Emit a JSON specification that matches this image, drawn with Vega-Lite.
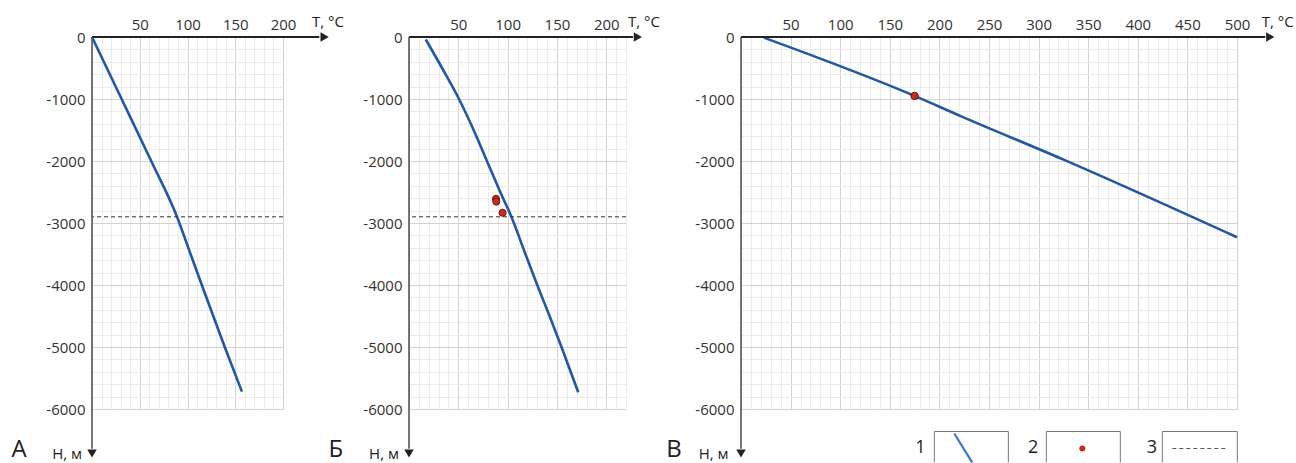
{
  "$schema": "https://vega.github.io/schema/vega-lite/v6.json",
  "autosize": {"type": "pad"},
  "padding": {"left": 11, "top": 14, "right": 0, "bottom": 0},
  "background": "white",
  "config": {
    "view": {"stroke": null},
    "font": "Open Sans",
    "axis": {"labelFont": "Open Sans", "labelFontSize": 15, "labelColor": "#333333", "domain": false, "ticks": false, "labelOverlap": false, "labelFlush": false, "gridWidth": 1},
    "text": {"font": "Open Sans", "color": "#222222"}
  },
  "datasets": {
    "curveA": [
      {"T": 0, "H": 0}, {"T": 31, "H": -1000}, {"T": 62, "H": -2000}, {"T": 89, "H": -2900}, {"T": 102, "H": -3450},
      {"T": 115, "H": -4000}, {"T": 139, "H": -5000}, {"T": 157, "H": -5720}
    ],
    "curveB": [
      {"T": 17, "H": -40}, {"T": 33.5, "H": -500}, {"T": 50.7, "H": -1000}, {"T": 65.5, "H": -1500}, {"T": 79, "H": -2000},
      {"T": 92.5, "H": -2500}, {"T": 103.8, "H": -2900}, {"T": 118, "H": -3500}, {"T": 130, "H": -4000},
      {"T": 142.5, "H": -4500}, {"T": 154.6, "H": -5000}, {"T": 171.6, "H": -5730}
    ],
    "curveC": [
      {"T": 23, "H": -10}, {"T": 175, "H": -950}, {"T": 222, "H": -1280}, {"T": 324, "H": -1970}, {"T": 500, "H": -3230}
    ],
    "pointsB": [
      {"T": 88.2, "H": -2610}, {"T": 88.5, "H": -2655}, {"T": 94.9, "H": -2835}
    ],
    "pointsC": [
      {"T": 175, "H": -950}
    ],
    "level": [
      {"H": -2900}
    ]
  },
  "hconcat": [
    {
      "width": 191,
      "height": 372,
      "resolve": {"axis": {"x": "independent", "y": "independent"}},
      "layer": [
        {
          "data": {"name": "curveA"},
          "mark": {"type": "line", "color": "#2257a5", "strokeWidth": 2.6, "interpolate": "monotone"},
          "encoding": {
            "x": {"field": "T", "type": "quantitative", "scale": {"domain": [0, 200], "nice": false, "zero": false},
              "axis": {"orient": "top", "title": null, "values": [0,10,20,30,40,50,60,70,80,90,100,110,120,130,140,150,160,170,180,190,200], "grid": true,
                "gridColor": {"condition": {"test": "datum.value % 50 === 0", "value": "#d2d2d2"}, "value": "#ebebeb"},
                "labelExpr": "datum.value % 50 === 0 && datum.value !== 0 ? datum.label : ''", "labelPadding": 5}},
            "y": {"field": "H", "type": "quantitative", "scale": {"domain": [-6000, 0], "nice": false, "zero": false},
              "axis": {"orient": "left", "title": null, "values": [-6000,-5800,-5600,-5400,-5200,-5000,-4800,-4600,-4400,-4200,-4000,-3800,-3600,-3400,-3200,-3000,-2800,-2600,-2400,-2200,-2000,-1800,-1600,-1400,-1200,-1000,-800,-600,-400,-200,0], "grid": true,
                "gridColor": {"condition": {"test": "datum.value % 1000 === 0", "value": "#d2d2d2"}, "value": "#ebebeb"},
                "labelExpr": "datum.value % 1000 === 0 ? '' + datum.value : ''", "labelPadding": 7}}
          }
        },
        {
          "data": {"name": "level"},
          "mark": {"type": "rule", "color": "#333333", "strokeWidth": 1, "strokeDash": [4, 3]},
          "encoding": {"y": {"field": "H", "type": "quantitative", "axis": null}}
        },
        {
          "data": {"values": [{}]},
          "mark": {"type": "rule", "color": "#222222", "strokeWidth": 1.8},
          "encoding": {"x": {"datum": 0, "axis": null}, "x2": {"datum": 238}, "y": {"datum": 0, "axis": null}}
        },
        {
          "data": {"values": [{}]},
          "mark": {"type": "point", "shape": "triangle-right", "filled": true, "color": "#222222", "size": 90, "opacity": 1},
          "encoding": {"x": {"datum": 243.6, "axis": null}, "y": {"datum": 0, "axis": null}}
        },
        {
          "data": {"values": [{}]},
          "mark": {"type": "text", "text": "T, °C", "fontSize": 15, "align": "left", "baseline": "middle"},
          "encoding": {"x": {"datum": 230.4, "axis": null}, "y": {"datum": 250, "axis": null}}
        },
        {
          "data": {"values": [{}]},
          "mark": {"type": "rule", "color": "#555555", "strokeWidth": 1.6},
          "encoding": {"x": {"datum": 0, "axis": null}, "y": {"datum": 0, "axis": null}, "y2": {"datum": -6640}}
        },
        {
          "data": {"values": [{}]},
          "mark": {"type": "point", "shape": "triangle-down", "filled": true, "color": "#222222", "size": 90, "opacity": 1},
          "encoding": {"x": {"datum": 0, "axis": null}, "y": {"datum": -6718, "axis": null}}
        },
        {
          "data": {"values": [{}]},
          "mark": {"type": "text", "text": "H, м", "fontSize": 15, "align": "right", "baseline": "middle"},
          "encoding": {"x": {"datum": -10.5, "axis": null}, "y": {"datum": -6718, "axis": null}}
        },
        {
          "data": {"values": [{}]},
          "mark": {"type": "text", "text": "А", "fontSize": 24, "align": "left", "baseline": "middle"},
          "encoding": {"x": {"datum": -84.4, "axis": null}, "y": {"datum": -6661, "axis": null}}
        }
      ]
    },
    {
      "width": 126,
      "height": 372,
      "data": {"values": []},
      "mark": {"type": "point"},
      "encoding": {}
    },
    {
      "width": 217,
      "height": 372,
      "resolve": {"axis": {"x": "independent", "y": "independent"}},
      "layer": [
        {
          "data": {"name": "curveB"},
          "mark": {"type": "line", "color": "#2257a5", "strokeWidth": 2.6, "interpolate": "monotone"},
          "encoding": {
            "x": {"field": "T", "type": "quantitative", "scale": {"domain": [0, 220], "nice": false, "zero": false},
              "axis": {"orient": "top", "title": null, "values": [0,10,20,30,40,50,60,70,80,90,100,110,120,130,140,150,160,170,180,190,200,210,220], "grid": true,
                "gridColor": {"condition": {"test": "datum.value % 50 === 0", "value": "#d2d2d2"}, "value": "#ebebeb"},
                "labelExpr": "datum.value % 50 === 0 && datum.value !== 0 ? datum.label : ''", "labelPadding": 5}},
            "y": {"field": "H", "type": "quantitative", "scale": {"domain": [-6000, 0], "nice": false, "zero": false},
              "axis": {"orient": "left", "title": null, "values": [-6000,-5800,-5600,-5400,-5200,-5000,-4800,-4600,-4400,-4200,-4000,-3800,-3600,-3400,-3200,-3000,-2800,-2600,-2400,-2200,-2000,-1800,-1600,-1400,-1200,-1000,-800,-600,-400,-200,0], "grid": true,
                "gridColor": {"condition": {"test": "datum.value % 1000 === 0", "value": "#d2d2d2"}, "value": "#ebebeb"},
                "labelExpr": "datum.value % 1000 === 0 ? '' + datum.value : ''", "labelPadding": 7}}
          }
        },
        {
          "data": {"name": "level"},
          "mark": {"type": "rule", "color": "#333333", "strokeWidth": 1, "strokeDash": [4, 3]},
          "encoding": {"y": {"field": "H", "type": "quantitative", "axis": null}}
        },
        {
          "data": {"name": "pointsB"},
          "mark": {"type": "point", "shape": "circle", "filled": true, "fill": "#d12a1c", "stroke": "#5a1a12", "strokeWidth": 1, "size": 50, "opacity": 1},
          "encoding": {"x": {"field": "T", "type": "quantitative", "axis": null}, "y": {"field": "H", "type": "quantitative", "axis": null}}
        },
        {
          "data": {"values": [{}]},
          "mark": {"type": "rule", "color": "#222222", "strokeWidth": 1.8},
          "encoding": {"x": {"datum": 0, "axis": null}, "x2": {"datum": 227}, "y": {"datum": 0, "axis": null}}
        },
        {
          "data": {"values": [{}]},
          "mark": {"type": "point", "shape": "triangle-right", "filled": true, "color": "#222222", "size": 90, "opacity": 1},
          "encoding": {"x": {"datum": 232, "axis": null}, "y": {"datum": 0, "axis": null}}
        },
        {
          "data": {"values": [{}]},
          "mark": {"type": "text", "text": "T, °C", "fontSize": 15, "align": "left", "baseline": "middle"},
          "encoding": {"x": {"datum": 222, "axis": null}, "y": {"datum": 250, "axis": null}}
        },
        {
          "data": {"values": [{}]},
          "mark": {"type": "rule", "color": "#555555", "strokeWidth": 1.6},
          "encoding": {"x": {"datum": 0, "axis": null}, "y": {"datum": 0, "axis": null}, "y2": {"datum": -6640}}
        },
        {
          "data": {"values": [{}]},
          "mark": {"type": "point", "shape": "triangle-down", "filled": true, "color": "#222222", "size": 90, "opacity": 1},
          "encoding": {"x": {"datum": 0, "axis": null}, "y": {"datum": -6718, "axis": null}}
        },
        {
          "data": {"values": [{}]},
          "mark": {"type": "text", "text": "H, м", "fontSize": 15, "align": "right", "baseline": "middle"},
          "encoding": {"x": {"datum": -10.2, "axis": null}, "y": {"datum": -6718, "axis": null}}
        },
        {
          "data": {"values": [{}]},
          "mark": {"type": "text", "text": "Б", "fontSize": 24, "align": "left", "baseline": "middle"},
          "encoding": {"x": {"datum": -81.5, "axis": null}, "y": {"datum": -6661, "axis": null}}
        }
      ]
    },
    {
      "width": 115,
      "height": 372,
      "data": {"values": []},
      "mark": {"type": "point"},
      "encoding": {}
    },
    {
      "width": 496,
      "height": 372,
      "resolve": {"axis": {"x": "independent", "y": "independent"}},
      "layer": [
        {
          "data": {"name": "curveC"},
          "mark": {"type": "line", "color": "#2257a5", "strokeWidth": 2.6, "interpolate": "monotone"},
          "encoding": {
            "x": {"field": "T", "type": "quantitative", "scale": {"domain": [0, 500], "nice": false, "zero": false},
              "axis": {"orient": "top", "title": null, "values": [0,10,20,30,40,50,60,70,80,90,100,110,120,130,140,150,160,170,180,190,200,210,220,230,240,250,260,270,280,290,300,310,320,330,340,350,360,370,380,390,400,410,420,430,440,450,460,470,480,490,500], "grid": true,
                "gridColor": {"condition": {"test": "datum.value % 50 === 0", "value": "#d2d2d2"}, "value": "#ebebeb"},
                "labelExpr": "datum.value % 50 === 0 && datum.value !== 0 ? datum.label : ''", "labelPadding": 5}},
            "y": {"field": "H", "type": "quantitative", "scale": {"domain": [-6000, 0], "nice": false, "zero": false},
              "axis": {"orient": "left", "title": null, "values": [-6000,-5800,-5600,-5400,-5200,-5000,-4800,-4600,-4400,-4200,-4000,-3800,-3600,-3400,-3200,-3000,-2800,-2600,-2400,-2200,-2000,-1800,-1600,-1400,-1200,-1000,-800,-600,-400,-200,0], "grid": true,
                "gridColor": {"condition": {"test": "datum.value % 1000 === 0", "value": "#d2d2d2"}, "value": "#ebebeb"},
                "labelExpr": "datum.value % 1000 === 0 ? '' + datum.value : ''", "labelPadding": 7}}
          }
        },
        {
          "data": {"name": "pointsC"},
          "mark": {"type": "point", "shape": "circle", "filled": true, "fill": "#d12a1c", "stroke": "#5a1a12", "strokeWidth": 1, "size": 55, "opacity": 1},
          "encoding": {"x": {"field": "T", "type": "quantitative", "axis": null}, "y": {"field": "H", "type": "quantitative", "axis": null}}
        },
        {
          "data": {"values": [{}]},
          "mark": {"type": "rule", "color": "#222222", "strokeWidth": 1.8},
          "encoding": {"x": {"datum": 0, "axis": null}, "x2": {"datum": 528.5}, "y": {"datum": 0, "axis": null}}
        },
        {
          "data": {"values": [{}]},
          "mark": {"type": "point", "shape": "triangle-right", "filled": true, "color": "#222222", "size": 90, "opacity": 1},
          "encoding": {"x": {"datum": 533.5, "axis": null}, "y": {"datum": 0, "axis": null}}
        },
        {
          "data": {"values": [{}]},
          "mark": {"type": "text", "text": "T, °C", "fontSize": 15, "align": "left", "baseline": "middle"},
          "encoding": {"x": {"datum": 525, "axis": null}, "y": {"datum": 250, "axis": null}}
        },
        {
          "data": {"values": [{}]},
          "mark": {"type": "rule", "color": "#555555", "strokeWidth": 1.6},
          "encoding": {"x": {"datum": 0, "axis": null}, "y": {"datum": 0, "axis": null}, "y2": {"datum": -6640}}
        },
        {
          "data": {"values": [{}]},
          "mark": {"type": "point", "shape": "triangle-down", "filled": true, "color": "#222222", "size": 90, "opacity": 1},
          "encoding": {"x": {"datum": 0, "axis": null}, "y": {"datum": -6718, "axis": null}}
        },
        {
          "data": {"values": [{}]},
          "mark": {"type": "text", "text": "H, м", "fontSize": 15, "align": "right", "baseline": "middle"},
          "encoding": {"x": {"datum": -12.5, "axis": null}, "y": {"datum": -6718, "axis": null}}
        },
        {
          "data": {"values": [{}]},
          "mark": {"type": "text", "text": "В", "fontSize": 24, "align": "left", "baseline": "middle"},
          "encoding": {"x": {"datum": -75.3, "axis": null}, "y": {"datum": -6661, "axis": null}}
        },
        {
          "data": {"values": [{}]},
          "mark": {"type": "text", "text": "1", "fontSize": 18, "align": "center", "baseline": "middle"},
          "encoding": {"x": {"datum": 180.8, "axis": null}, "y": {"datum": -6626, "axis": null}}
        },
        {
          "data": {"values": [{}]},
          "mark": {"type": "text", "text": "2", "fontSize": 18, "align": "center", "baseline": "middle"},
          "encoding": {"x": {"datum": 294.4, "axis": null}, "y": {"datum": -6626, "axis": null}}
        },
        {
          "data": {"values": [{}]},
          "mark": {"type": "text", "text": "3", "fontSize": 18, "align": "center", "baseline": "middle"},
          "encoding": {"x": {"datum": 414.3, "axis": null}, "y": {"datum": -6626, "axis": null}}
        },
        {
          "data": {"values": [{}]},
          "mark": {"type": "rule", "color": "#777777", "strokeWidth": 1},
          "encoding": {"x": {"datum": 194.9, "axis": null}, "x2": {"datum": 269.5}, "y": {"datum": -6363, "axis": null}}
        },
        {
          "data": {"values": [{}]},
          "mark": {"type": "rule", "color": "#777777", "strokeWidth": 1},
          "encoding": {"x": {"datum": 194.9, "axis": null}, "y": {"datum": -6363, "axis": null}, "y2": {"datum": -6860}}
        },
        {
          "data": {"values": [{}]},
          "mark": {"type": "rule", "color": "#777777", "strokeWidth": 1},
          "encoding": {"x": {"datum": 269.5, "axis": null}, "y": {"datum": -6363, "axis": null}, "y2": {"datum": -6860}}
        },
        {
          "data": {"values": [{}]},
          "mark": {"type": "rule", "color": "#777777", "strokeWidth": 1},
          "encoding": {"x": {"datum": 307.8, "axis": null}, "x2": {"datum": 382.4}, "y": {"datum": -6363, "axis": null}}
        },
        {
          "data": {"values": [{}]},
          "mark": {"type": "rule", "color": "#777777", "strokeWidth": 1},
          "encoding": {"x": {"datum": 307.8, "axis": null}, "y": {"datum": -6363, "axis": null}, "y2": {"datum": -6860}}
        },
        {
          "data": {"values": [{}]},
          "mark": {"type": "rule", "color": "#777777", "strokeWidth": 1},
          "encoding": {"x": {"datum": 382.4, "axis": null}, "y": {"datum": -6363, "axis": null}, "y2": {"datum": -6860}}
        },
        {
          "data": {"values": [{}]},
          "mark": {"type": "rule", "color": "#777777", "strokeWidth": 1},
          "encoding": {"x": {"datum": 424.7, "axis": null}, "x2": {"datum": 500.3}, "y": {"datum": -6363, "axis": null}}
        },
        {
          "data": {"values": [{}]},
          "mark": {"type": "rule", "color": "#777777", "strokeWidth": 1},
          "encoding": {"x": {"datum": 424.7, "axis": null}, "y": {"datum": -6363, "axis": null}, "y2": {"datum": -6860}}
        },
        {
          "data": {"values": [{}]},
          "mark": {"type": "rule", "color": "#777777", "strokeWidth": 1},
          "encoding": {"x": {"datum": 500.3, "axis": null}, "y": {"datum": -6363, "axis": null}, "y2": {"datum": -6860}}
        },
        {
          "data": {"values": [{}]},
          "mark": {"type": "rule", "color": "#3a78c8", "strokeWidth": 2.2},
          "encoding": {"x": {"datum": 215, "axis": null}, "x2": {"datum": 233}, "y": {"datum": -6395, "axis": null}, "y2": {"datum": -6860}}
        },
        {
          "data": {"values": [{}]},
          "mark": {"type": "point", "shape": "circle", "filled": true, "fill": "#d12a1c", "stroke": "#8a1a12", "strokeWidth": 0.5, "size": 30, "opacity": 1},
          "encoding": {"x": {"datum": 344.1, "axis": null}, "y": {"datum": -6637, "axis": null}}
        },
        {
          "data": {"values": [{}]},
          "mark": {"type": "rule", "color": "#555555", "strokeWidth": 1, "strokeDash": [4, 3]},
          "encoding": {"x": {"datum": 434.8, "axis": null}, "x2": {"datum": 490.2}, "y": {"datum": -6637, "axis": null}}
        }
      ]
    }
  ],
  "spacing": 0,
  "bounds": "flush"
}
